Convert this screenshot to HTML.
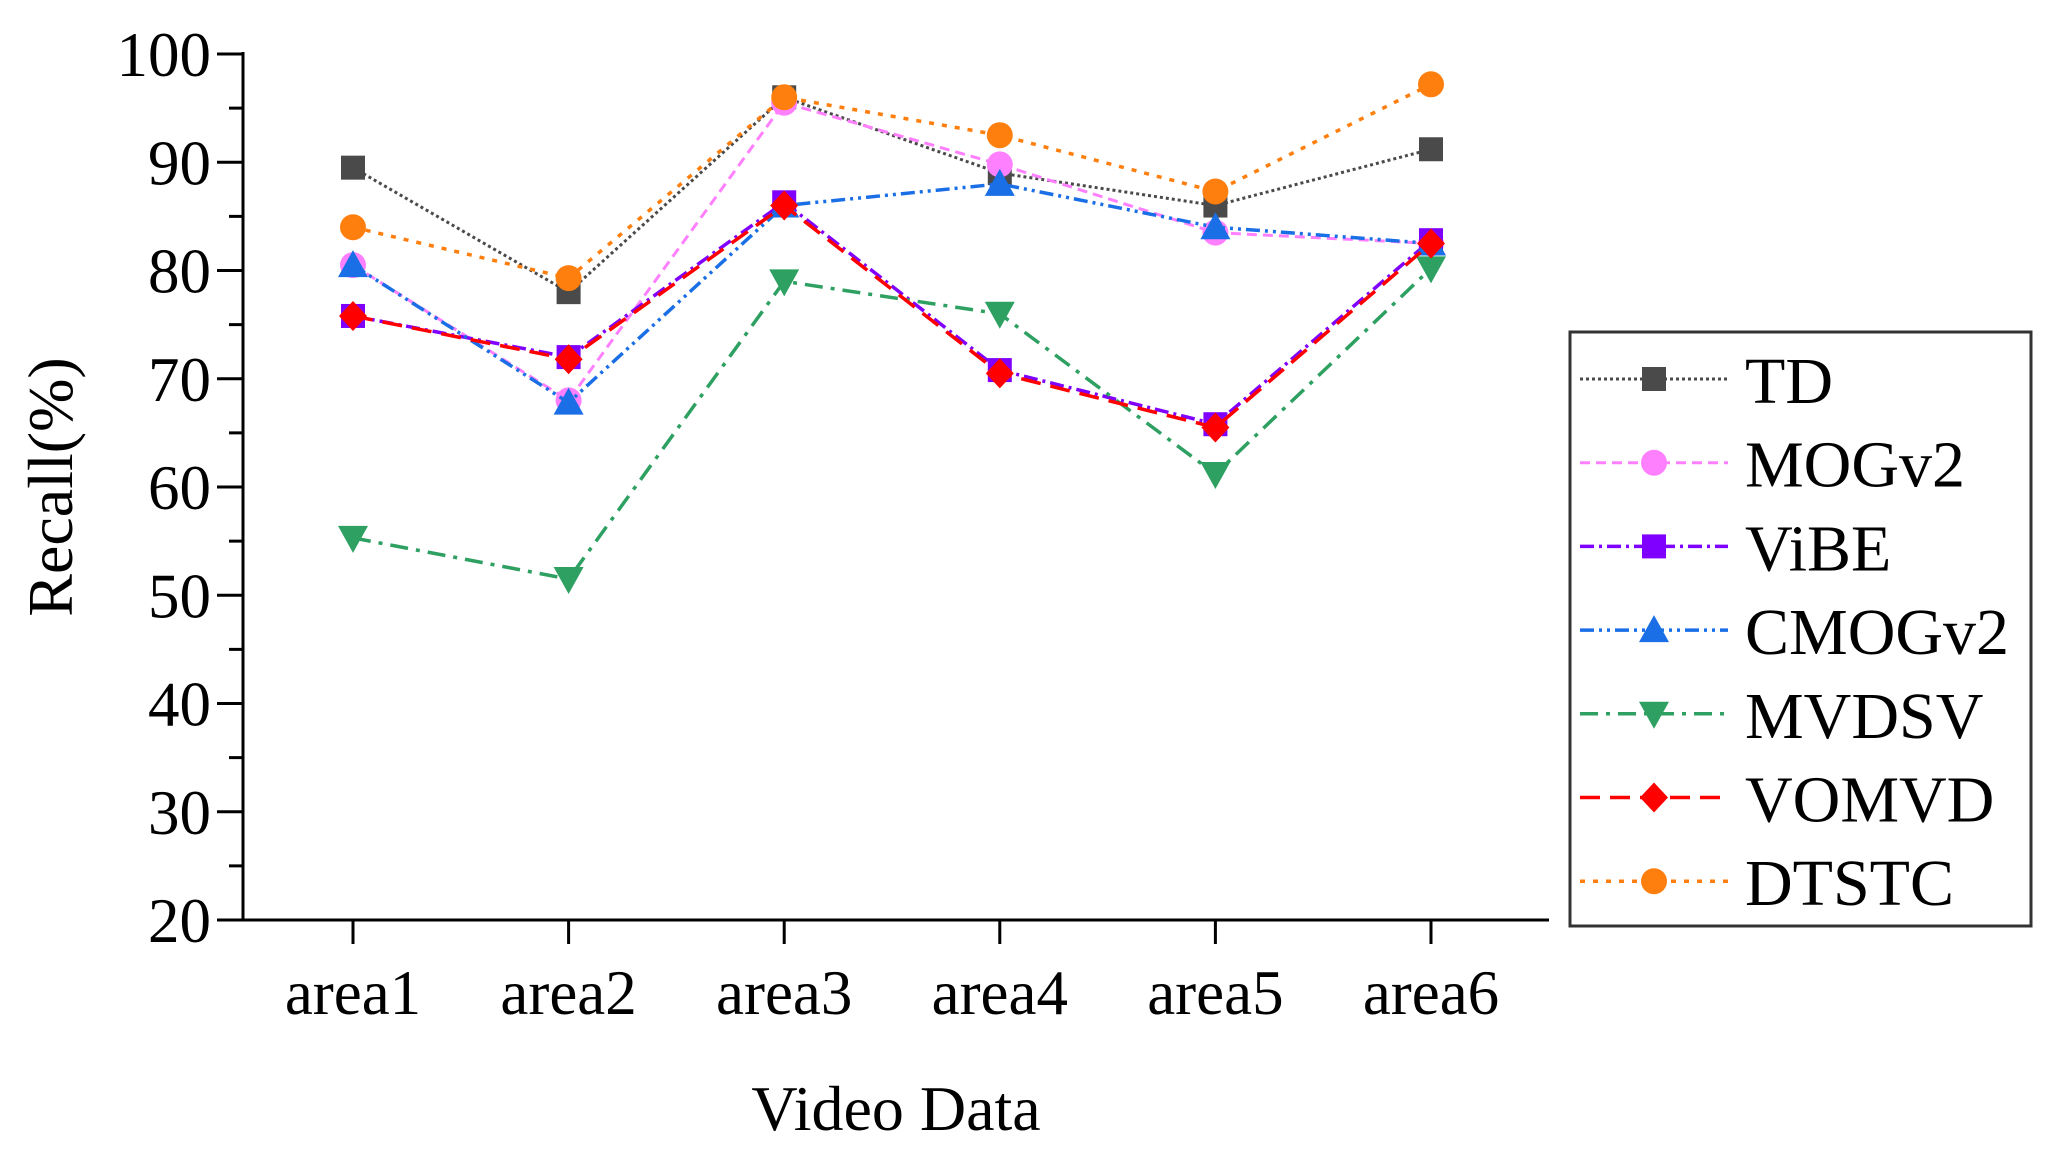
<!DOCTYPE html>
<html><head><meta charset="utf-8"><style>
body{margin:0;background:#fff}
svg{display:block;font-family:"Liberation Serif",serif}
</style></head><body>
<svg id="c" width="2048" height="1157"></svg>
<script>
const categories=["area1","area2","area3","area4","area5","area6"];
const yTicks=[20,30,40,50,60,70,80,90,100];
const seriesNames=["TD","MOGv2","ViBE","CMOGv2","MVDSV","VOMVD","DTSTC"];
const tdValues=[89.5,78,96,89,86,91.2];
const mogValues=[80.5,68,95.5,89.8,83.5,82.5];
const vibeValues=[75.8,72,86.3,70.8,65.8,82.8];
const cmogValues=[80.5,67.8,86,88,84,82.5];
const mvdsvValues=[55.3,51.5,79,76,61.2,80.2];
const vomvdValues=[75.8,71.8,86,70.5,65.5,82.5];
const dtstcValues=[84,79.3,96,92.5,87.3,97.2];

const NS="http://www.w3.org/2000/svg";
const svg=document.getElementById('c');
function mk(t,a,p){const e=document.createElementNS(NS,t);for(const k in a)e.setAttribute(k,a[k]);(p||svg).appendChild(e);return e;}
const X0=243,X1=1549,Y0=920,Y1=54;
const xS=i=>353+i*215.6;
const yS=v=>Y0-(v-20)/80*(Y0-Y1);

const styles=[
 {vals:tdValues,color:"#4a4a4a",dash:"3 3",m:"square",w:3},
 {vals:mogValues,color:"#ff80ff",dash:"10 6",m:"circle",w:3},
 {vals:vibeValues,color:"#7f00ff",dash:"14 5 3 5",m:"square",w:3.5},
 {vals:cmogValues,color:"#1a6ee6",dash:"14 5 3 5 3 5",m:"tri",w:3.5},
 {vals:mvdsvValues,color:"#2ea062",dash:"18 8 4 8",m:"tridown",w:3.5},
 {vals:vomvdValues,color:"#ff0000",dash:"20 10",m:"diamond",w:3.5},
 {vals:dtstcValues,color:"#ff7f0e",dash:"5 8",m:"circle",w:3.5}
];
function marker(type,x,y,color,g){
 let e;
 if(type==="square")e=mk('rect',{x:x-12,y:y-12,width:24,height:24,fill:color},g);
 else if(type==="circle")e=mk('circle',{cx:x,cy:y,r:13,fill:color},g);
 else if(type==="tri")e=mk('polygon',{points:`${x},${y-15} ${x+15},${y+12} ${x-15},${y+12}`,fill:color},g);
 else if(type==="tridown")e=mk('polygon',{points:`${x},${y+15} ${x+15},${y-12} ${x-15},${y-12}`,fill:color},g);
 else e=mk('polygon',{points:`${x},${y-15} ${x+14},${y} ${x},${y+15} ${x-14},${y}`,fill:color},g);
 
 
}
const ax=mk('g',{});


mk('line',{x1:X0,y1:Y1-2,x2:X0,y2:Y0,stroke:"#000","stroke-width":3},ax);
mk('line',{x1:X0-26,y1:Y0,x2:X1,y2:Y0,stroke:"#000","stroke-width":3},ax);
yTicks.forEach(v=>{
 mk('line',{x1:X0-26,y1:yS(v),x2:X0,y2:yS(v),stroke:"#000","stroke-width":3},ax);
 const t=mk('text',{x:X0-32,y:yS(v)+22,"text-anchor":"end","font-size":63},ax);t.textContent=v;
 
 
 if(v<100)mk('line',{x1:X0-14,y1:yS(v+5),x2:X0,y2:yS(v+5),stroke:"#000","stroke-width":3},ax);
});
categories.forEach((c,i)=>{
 mk('line',{x1:xS(i),y1:Y0,x2:xS(i),y2:Y0+24,stroke:"#000","stroke-width":3},ax);
 const t=mk('text',{x:xS(i),y:1014,"text-anchor":"middle","font-size":63},ax);t.textContent=c;
 
 
});
let t=mk('text',{x:896,y:1130,"text-anchor":"middle","font-size":64});t.textContent="Video Data";


t=mk('text',{x:0,y:0,"text-anchor":"middle","font-size":64,transform:"translate(72,487) rotate(-90)"});t.textContent="Recall(%)";


styles.forEach((s,k)=>{
 const g=mk('g',{});
 
 
 mk('polyline',{points:s.vals.map((v,i)=>xS(i)+","+yS(v)).join(" "),fill:"none",stroke:s.color,"stroke-width":s.w,"stroke-dasharray":s.dash},g);
 s.vals.forEach((v,i)=>marker(s.m,xS(i),yS(v),s.color,g));
});
const lg=mk('g',{});


mk('rect',{x:1570,y:332,width:461,height:594,fill:"#fff",stroke:"#333","stroke-width":3},lg);
styles.forEach((s,k)=>{
 const y=379+k*83.7;
 const e=mk('g',{},lg);
 
 
 mk('line',{x1:1580,y1:y,x2:1728,y2:y,stroke:s.color,"stroke-width":s.w,"stroke-dasharray":s.dash},e);
 marker(s.m,1654,y,s.color,e);
 const tx=mk('text',{x:1745,y:y+24,"font-size":66},e);tx.textContent=seriesNames[k];
});
</script>
</body></html>
